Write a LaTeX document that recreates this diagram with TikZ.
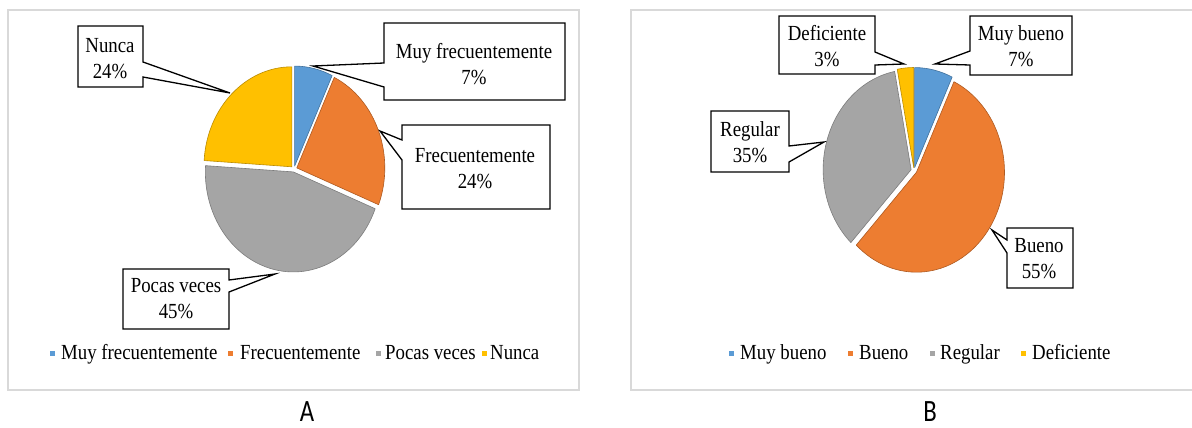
\documentclass[tikz,border=0pt]{standalone}
\usepackage{fontspec}
\setmainfont{Liberation Serif}[FakeStretch=0.875]
\newfontfamily\capfont{Carlito}[FakeStretch=0.8]
\definecolor{cblue}{HTML}{5B9BD5}
\definecolor{corange}{HTML}{ED7D31}
\definecolor{cgray}{HTML}{A5A5A5}
\definecolor{cgold}{HTML}{FFC000}
\definecolor{eblue}{HTML}{41719C}
\definecolor{eorange}{HTML}{AE5A21}
\definecolor{egray}{HTML}{7C7C7C}
\definecolor{egold}{HTML}{BC8C00}
\definecolor{framegray}{HTML}{D9D9D9}
\newcommand{\pieslice}[6]{%
  \pgfmathsetmacro\pmid{(#3+#4)/2}%
  \filldraw[slice, fill=#5, draw=#6] ({#1+3*cos(\pmid)},{#2+3*sin(\pmid)}) -- ++({88*cos(#3)},{100*sin(#3)}) arc[start angle=#3, end angle=#4, x radius=88, y radius=100] -- cycle;%
}
\begin{document}
\begin{tikzpicture}[x=1pt,y=-1pt,
  frame/.style={draw=framegray, line width=1.3pt},
  slice/.style={line width=0.6pt, line join=round},
  callout/.style={draw=black, fill=white, line width=1.3pt, line join=miter},
  lab/.style={font=\fontsize{21.5}{26}\selectfont, align=center, inner sep=0pt},
  leg/.style={font=\fontsize{21.5}{26}\selectfont, inner sep=0pt, anchor=base west},
  legsq/.style={minimum size=5pt, inner sep=0pt},
  panel/.style={font=\capfont\fontsize{31}{34}\selectfont, inner sep=0pt, anchor=base}]
\useasboundingbox (0,0) rectangle (1192,428);
\fill[white] (0,0) rectangle (1192,428);
% frames
\draw[frame] (8,10) rectangle (579,390);
\draw[frame] (631,10) rectangle (1200,390);
% ---------- Pie A ----------
\pieslice{294}{169}{-90}{-64.8}{cblue}{eblue}
\pieslice{294}{169}{-64.8}{21.6}{corange}{eorange}
\pieslice{294}{169}{21.6}{183.6}{cgray}{egray}
\pieslice{294}{169}{183.6}{270}{cgold}{egold}
% callouts A
\coordinate (tNunca) at (230,93);
\coordinate (tMuyF) at (313,66);
\coordinate (tFrec) at (380,131);
\coordinate (tPocas) at (275,274);
\draw[callout] (78,26) -- (143,26) -- (143,62) -- (tNunca) -- (143,77) -- (143,87) -- (78,87) -- cycle;
\draw[callout] (384,23) -- (565,23) -- (565,100) -- (384,100) -- (384,87) -- (tMuyF) -- (384,63) -- cycle;
\draw[callout] (402,125) -- (550,125) -- (550,209) -- (402,209) -- (402,160) -- (tFrec) -- (402,140) -- cycle;
\draw[callout] (123,269) -- (229,269) -- (229,280) -- (tPocas) -- (229,292) -- (229,329) -- (123,329) -- cycle;
\node[lab] (lNunca) at (110,59) {Nunca\\24\%};
\node[lab] (lMuyF) at (474,64) {Muy frecuentemente\\7\%};
\node[lab] (lFrec) at (475,169) {Frecuentemente\\24\%};
\node[lab] (lPocas) at (176,299) {Pocas veces\\45\%};
% legend A
\node[legsq, fill=cblue] (sqA1) at (52.4,353) {};
\node[leg] (gA1) at (61,359) {Muy frecuentemente};
\node[legsq, fill=corange] (sqA2) at (230.8,353) {};
\node[leg] (gA2) at (240,359) {Frecuentemente};
\node[legsq, fill=cgray] (sqA3) at (378,353) {};
\node[leg] (gA3) at (385,359) {Pocas veces};
\node[legsq, fill=cgold] (sqA4) at (484,353) {};
\node[leg] (gA4) at (490,359) {Nunca};
% ---------- Pie B ----------
\pieslice{914}{170.5}{-90}{-64.8}{cblue}{eblue}
\pieslice{914}{170.5}{-64.8}{133.2}{corange}{eorange}
\pieslice{914}{170.5}{133.2}{259.2}{cgray}{egray}
\pieslice{914}{170.5}{259.2}{270}{cgold}{egold}
% callouts B
\coordinate (tDef) at (904,64);
\coordinate (tMuyB) at (935,64);
\coordinate (tReg) at (824,142);
\coordinate (tBueno) at (992,230);
\draw[callout] (779,16) -- (875,16) -- (875,52) -- (tDef) -- (875,65) -- (875,74) -- (779,74) -- cycle;
\draw[callout] (970,16) -- (1072,16) -- (1072,75) -- (970,75) -- (970,65) -- (tMuyB) -- (970,51) -- cycle;
\draw[callout] (711,111) -- (789,111) -- (789,146) -- (tReg) -- (789,162) -- (789,172) -- (711,172) -- cycle;
\draw[callout] (1007,228) -- (1073,228) -- (1073,288) -- (1007,288) -- (1007,253) -- (tBueno) -- (1007,240) -- cycle;
\node[lab] (lDef) at (827,46) {Deficiente\\3\%};
\node[lab] (lMuyB) at (1021,46) {Muy bueno\\7\%};
\node[lab] (lReg) at (750,142) {Regular\\35\%};
\node[lab] (lBueno) at (1039,259) {Bueno\\55\%};
% legend B
\node[legsq, fill=cblue] (sqB1) at (731,353) {};
\node[leg] (gB1) at (740,359) {Muy bueno};
\node[legsq, fill=corange] (sqB2) at (850,353) {};
\node[leg] (gB2) at (859,359) {Bueno};
\node[legsq, fill=cgray] (sqB3) at (932,353) {};
\node[leg] (gB3) at (940,359) {Regular};
\node[legsq, fill=cgold] (sqB4) at (1023,353) {};
\node[leg] (gB4) at (1032,359) {Deficiente};
% panel letters
\node[panel] (pA) at (307,421) {A};
\node[panel] (pB) at (930,421) {B};
\end{tikzpicture}
\end{document}
